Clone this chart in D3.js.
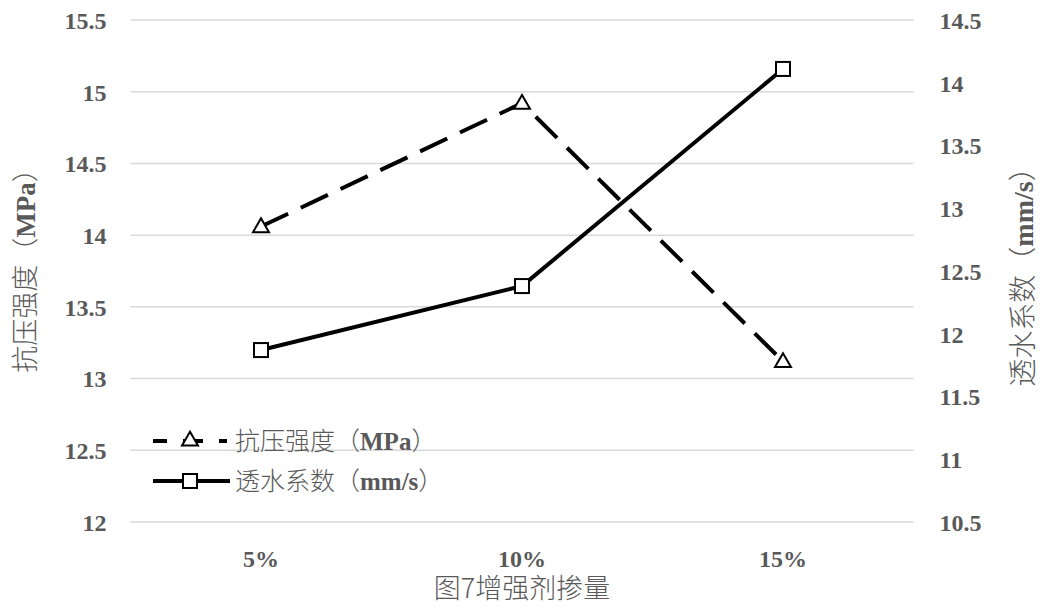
<!DOCTYPE html>
<html>
<head>
<meta charset="utf-8">
<script src="https://cdn.jsdelivr.net/npm/d3@7"></script>
<style>
  html, body { margin: 0; padding: 0; background: #fff; }
  svg { display: block; }
  .tick text { font-family: "Liberation Serif", "Times New Roman", serif; font-weight: bold; font-size: 24px; fill: #595959; }
  .cjk { font-family: "Noto Sans CJK SC", sans-serif; font-weight: 300; fill: #595959; }
  .lat { font-family: "Liberation Serif", "Times New Roman", serif; font-weight: bold; fill: #595959; }
</style>
</head>
<body>
<svg id="chart" width="1041" height="607"></svg>
<script>
// Dosage categories and the two measured series
const categories = ["5%", "10%", "15%"];
const strength = [14.06, 14.92, 13.12];       // 抗压强度 (MPa), left axis
const permeability = [11.87, 12.38, 14.11];   // 透水系数 (mm/s), right axis
const leftTicks = [12, 12.5, 13, 13.5, 14, 14.5, 15, 15.5];
const rightTicks = [10.5, 11, 11.5, 12, 12.5, 13, 13.5, 14, 14.5];

const svg = d3.select("#chart");
const plot = { left: 130.5, right: 913.5, top: 20, bottom: 522 };

const x = d3.scaleBand().domain(categories).range([plot.left, plot.right]);
const yL = d3.scaleLinear().domain([12, 15.5]).range([plot.bottom, plot.top]);
const yR = d3.scaleLinear().domain([10.5, 14.5]).range([plot.bottom, plot.top]);
const cx = d => x(d) + x.bandwidth() / 2;

// Horizontal gridlines
svg.append("g")
  .selectAll("line")
  .data(leftTicks)
  .join("line")
  .attr("x1", plot.left).attr("x2", plot.right)
  .attr("y1", d => yL(d)).attr("y2", d => yL(d))
  .attr("stroke", "#d9d9d9").attr("stroke-width", 1.5);

// Left axis labels
const gL = svg.append("g").attr("transform", `translate(${plot.left - 24},0)`)
  .call(d3.axisLeft(yL).tickValues(leftTicks).tickFormat(d => d).tickSize(0).tickPadding(0));
gL.select(".domain").remove();
gL.selectAll(".tick text").attr("dy", "0.35em");

// Right axis labels
const gR = svg.append("g").attr("transform", `translate(${plot.right + 26},0)`)
  .call(d3.axisRight(yR).tickValues(rightTicks).tickFormat(d => d).tickSize(0).tickPadding(0));
gR.select(".domain").remove();
gR.selectAll(".tick text").attr("dy", "0.35em");

// Category labels
const gX = svg.append("g").attr("transform", `translate(0,${plot.bottom + 37})`)
  .call(d3.axisBottom(x).tickSize(0).tickPadding(0));
gX.select(".domain").remove();
gX.selectAll(".tick text").attr("dy", "0.35em");

// Mixed-script label helper: CJK in sans, Latin in bold serif
function mixedText(sel, parts, size) {
  parts.forEach(p => {
    sel.append("tspan")
      .attr("class", p[1] ? "lat" : "cjk")
      .style("font-size", size + "px")
      .text(p[0]);
  });
  return sel;
}

const dash = "30,14";

// Strength line (dashed) and triangle markers
const lineL = d3.line().x((d, i) => cx(categories[i])).y(d => yL(d));
svg.append("path").datum(strength)
  .attr("d", lineL).attr("fill", "none")
  .attr("stroke", "#000").attr("stroke-width", 4)
  .attr("stroke-dasharray", dash);

const tri = d3.symbol().type(d3.symbolTriangle).size(110);
svg.append("g").selectAll("path")
  .data(strength)
  .join("path")
  .attr("d", tri)
  .attr("transform", (d, i) => `translate(${cx(categories[i])},${yL(d) + 1})`)
  .attr("fill", "#fff").attr("stroke", "#000").attr("stroke-width", 2);

// Permeability line (solid) and square markers
const lineR = d3.line().x((d, i) => cx(categories[i])).y(d => yR(d));
svg.append("path").datum(permeability)
  .attr("d", lineR).attr("fill", "none")
  .attr("stroke", "#000").attr("stroke-width", 4);

svg.append("g").selectAll("rect")
  .data(permeability)
  .join("rect")
  .attr("x", (d, i) => cx(categories[i]) - 7)
  .attr("y", d => yR(d) - 7)
  .attr("width", 14).attr("height", 14)
  .attr("fill", "#fff").attr("stroke", "#000").attr("stroke-width", 2);

// Legend
const lg = svg.append("g");
lg.append("line").attr("x1", 153).attr("x2", 228).attr("y1", 441).attr("y2", 441)
  .attr("stroke", "#000").attr("stroke-width", 4)
  .attr("stroke-dasharray", "14,16,20,16,8,40");
lg.append("path").attr("d", tri).attr("transform", "translate(190,441)")
  .attr("fill", "#fff").attr("stroke", "#000").attr("stroke-width", 2);
lg.append("line").attr("x1", 153).attr("x2", 230).attr("y1", 481).attr("y2", 481)
  .attr("stroke", "#000").attr("stroke-width", 4);
lg.append("rect").attr("x", 183).attr("y", 474).attr("width", 14).attr("height", 14)
  .attr("fill", "#fff").attr("stroke", "#000").attr("stroke-width", 2);

mixedText(lg.append("text").attr("x", 235).attr("y", 450),
  [["抗压强度（", 0], ["MPa", 1], ["）", 0]], 25);
mixedText(lg.append("text").attr("x", 235).attr("y", 490),
  [["透水系数（", 0], ["mm/s", 1], ["）", 0]], 25);

// Axis titles
mixedText(svg.append("text").attr("text-anchor", "middle")
  .attr("transform", "translate(35,264) rotate(-90)"),
  [["抗压强度（", 0], ["MPa", 1], ["）", 0]], 27);
mixedText(svg.append("text").attr("text-anchor", "middle")
  .attr("transform", "translate(1033,270) rotate(-90)"),
  [["透水系数（", 0], ["mm/s", 1], ["）", 0]], 28);
mixedText(svg.append("text").attr("text-anchor", "middle")
  .attr("x", (plot.left + plot.right) / 2).attr("y", 598),
  [["图7增强剂掺量", 0]], 27);
</script>
</body>
</html>
